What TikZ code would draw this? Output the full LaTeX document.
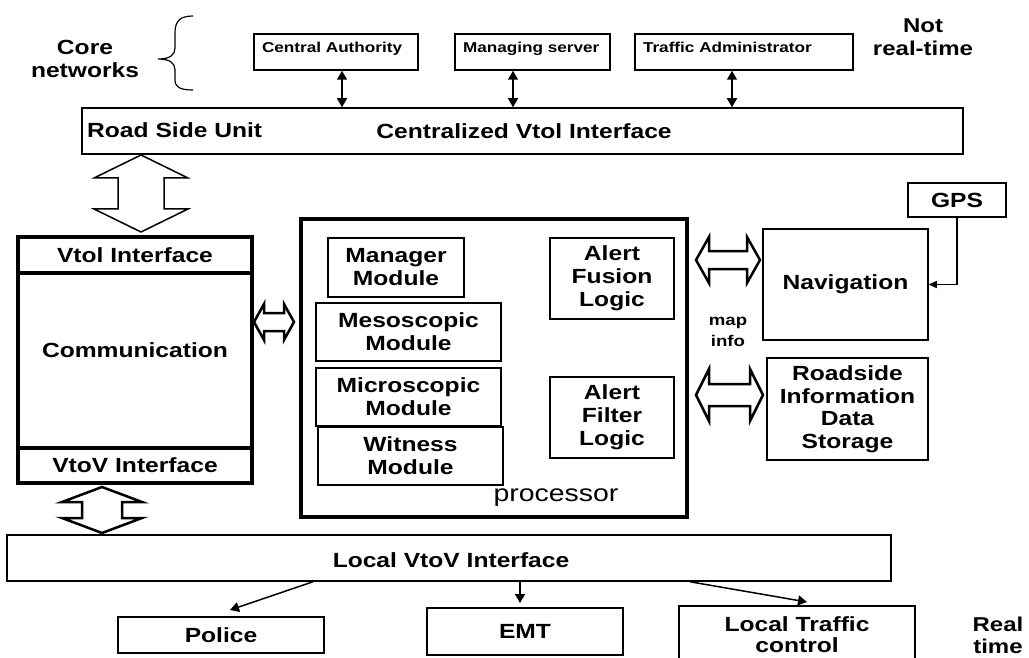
\documentclass[tikz,border=0pt]{standalone}
\usepackage{fontspec}
\setmainfont{Liberation Sans}[FakeStretch=1.2]
\usetikzlibrary{arrows.meta,calc}
\newcommand\hollowH[7][]{\draw[hollow,#1] (#2,#4) -- ({#2+#7},{#4-#5}) -- ({#2+#7},{#4-#6}) -- ({#3-#7},{#4-#6}) -- ({#3-#7},{#4-#5}) -- (#3,#4) -- ({#3-#7},{#4+#5}) -- ({#3-#7},{#4+#6}) -- ({#2+#7},{#4+#6}) -- ({#2+#7},{#4+#5}) -- cycle;}
\newcommand\hollowV[7][]{\draw[hollow,#1] (#4,#2) -- ({#4+#5},{#2+#7}) -- ({#4+#6},{#2+#7}) -- ({#4+#6},{#3-#7}) -- ({#4+#5},{#3-#7}) -- (#4,#3) -- ({#4-#5},{#3-#7}) -- ({#4-#6},{#3-#7}) -- ({#4-#6},{#2+#7}) -- ({#4-#5},{#2+#7}) -- cycle;}
\begin{document}
\begin{tikzpicture}[x=1pt,y=-1pt,
  lbl/.style={font=\bfseries\fontsize{20.5}{23}\selectfont, align=center, inner sep=0pt},
  sm/.style={font=\bfseries\fontsize{14.3}{16}\selectfont},
  box/.style={draw, line width=1.5pt, lbl},
  tbox/.style={draw, line width=4pt, lbl},
  topbox/.style={draw, line width=1.5pt, sm, minimum height=36pt, inner xsep=8pt, inner ysep=0pt, align=left, text height=10.5pt, text depth=8.5pt},
  hollow/.style={draw, line width=2.5pt, fill=white, line join=miter},
  conn/.style={line width=1.5pt, -{Triangle[length=9pt,width=10pt]}},
  dconn/.style={line width=1.5pt, {Triangle[length=9pt,width=10pt]}-{Triangle[length=9pt,width=10pt]}}
]
\useasboundingbox (0,0) rectangle (1029,658);

% core networks + brace
\node[lbl] (core) at (85,59) {Core\\networks};
\draw[line width=1.2pt] (193,16) .. controls (180,16) and (175,21) .. (175,33) -- (175,48) .. controls (175,55) and (170,59) .. (158,59) .. controls (170,59) and (175,63) .. (175,70) -- (175,80) .. controls (175,87) and (180,90) .. (193,90);
\node[lbl, font=\bfseries\fontsize{20}{23}\selectfont] (notrt) at (923,37) {Not\\real-time};

% top boxes
\node[topbox, text width=148pt] (ca) at (336,52) {Central Authority};
\node[topbox, text width=139pt] (ms) at (532.5,52) {Managing server};
\node[topbox, text width=202pt] (ta) at (744,52) {Traffic Administrator};

% centralized interface
\node[box, minimum width=881pt, minimum height=46pt] (rsu) at (522.5,131) {};
\node[lbl, anchor=west] (rsulbl) at (87,130) {Road Side Unit};
\node[lbl] (cvi) at (524,131) {Centralized Vtol Interface};

\draw[dconn] (342,0 |- ca.south) -- (342,0 |- rsu.north);
\draw[dconn] (513,0 |- ms.south) -- (513,0 |- rsu.north);
\draw[dconn] (732,0 |- ta.south) -- (732,0 |- rsu.north);

% communication block
\node[tbox, minimum width=234pt, minimum height=36pt] (vtolif) at (135,255) {Vtol Interface};
\node[tbox, minimum width=234pt, minimum height=175pt] (comm) at (135,360.5) {};
\node[lbl] (commlbl) at (135,350) {Communication};
\node[tbox, minimum width=234pt, minimum height=35pt] (vtovif) at (135,465.5) {VtoV Interface};

% processor
\node[tbox, minimum width=386pt, minimum height=298pt] (proc) at (494,368) {};
\node[font=\fontsize{23.7}{26}\selectfont, inner sep=0pt] (proclbl) at (556,498) {processor};
\node[box, minimum width=136pt, minimum height=59pt] (mgr) at (396,267.5) {Manager\\Module};
\node[box, minimum width=185pt, minimum height=58pt] (meso) at (408.5,332) {Mesoscopic\\Module};
\node[box, minimum width=185pt, minimum height=58pt] (micro) at (408.5,397) {Microscopic\\Module};
\node[box, minimum width=185pt, minimum height=58pt] (wit) at (410.5,456) {Witness\\Module};
\node[box, minimum width=124pt, minimum height=81pt] (afus) at (612,278.5) {Alert\\Fusion\\Logic};
\node[box, minimum width=124pt, minimum height=81pt] (afil) at (612,417.5) {Alert\\Filter\\Logic};

% right side
\node[box, minimum width=98pt, minimum height=34pt] (gps) at (957,200) {GPS};
\node[box, minimum width=165pt, minimum height=111pt] (nav) at (845.5,284.5) {Navigation};
\node[box, minimum width=161pt, minimum height=102pt, font=\bfseries\fontsize{20.5}{22.5}\selectfont] (rids) at (847.5,409) {Roadside\\Information\\Data\\Storage};
\node[lbl, font=\bfseries\fontsize{15.5}{21}\selectfont] (mapinfo) at (728,332) {map\\info};
\draw[line width=1.5pt, -{Triangle[length=8pt,width=7pt]}] (gps.south) |- (nav.east);

% bottom
\node[box, minimum width=884pt, minimum height=46pt] (lv) at (449,558) {};
\node[lbl] (lvlbl) at (451,560) {Local VtoV Interface};
\node[box, minimum width=206pt, minimum height=36pt] (police) at (221,635) {Police};
\node[box, minimum width=196pt, minimum height=47pt] (emt) at (525,631.5) {EMT};
\node[box, minimum width=236pt, minimum height=56pt] (ltc) at (797,634) {};
\node[lbl, font=\bfseries\fontsize{20.5}{21}\selectfont] (ltclbl) at (797,635) {Local Traffic\\control};
\node[lbl, font=\bfseries\fontsize{20}{22}\selectfont] (realt) at (998,635) {Real\\time};

\coordinate (polt) at (230,610);
\coordinate (emtt) at (520,603);
\coordinate (ltct) at (807,602);
\draw[conn] (313,0 |- lv.south) -- (polt);
\draw[conn] (520,0 |- lv.south) -- (emtt);
\draw[conn] (690,0 |- lv.south) -- (ltct);

% hollow arrows
\hollowV[line width=1.5pt]{155}{232}{141}{47}{23}{23}
\hollowH{254}{294}{322}{18}{9}{10}
\hollowH{696}{760}{260}{23}{9}{13}
\hollowH{696}{763}{395}{26}{11}{13}
\hollowV{487}{533}{102}{40}{20}{15}
\end{tikzpicture}
\end{document}
